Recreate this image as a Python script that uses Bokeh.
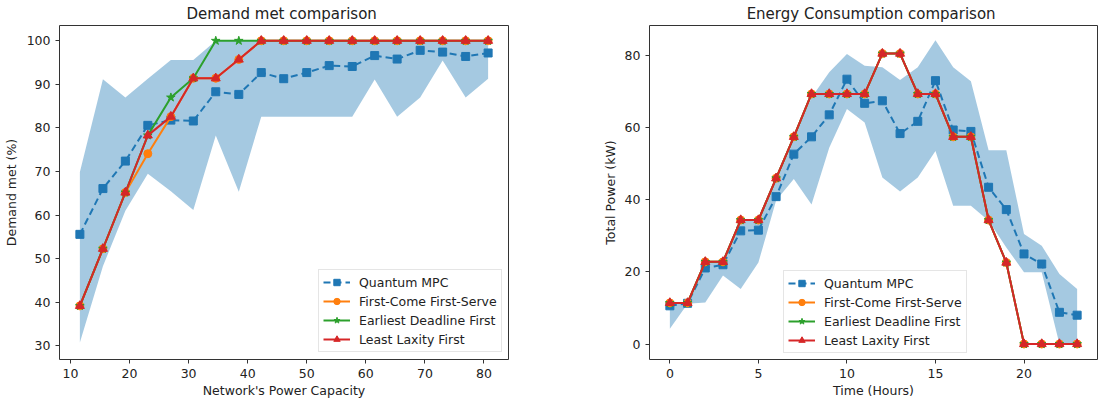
from bokeh.plotting import figure
from bokeh.layouts import row
from bokeh.models import Range1d, Legend, LegendItem, FixedTicker
from bokeh.embed import file_html
from bokeh.resources import INLINE

# ---------------- Left chart: Demand met ----------------
capacity = [11.6, 15.5, 19.3, 23.1, 27.0, 30.8, 34.6, 38.5, 42.3, 46.1,
            50.0, 53.8, 57.7, 61.5, 65.3, 69.2, 73.0, 76.9, 80.7]
dm_qmpc = [55.6, 66.1, 72.4, 80.6, 81.8, 81.6, 88.3, 87.7, 92.7, 91.3,
           92.7, 94.3, 94.1, 96.6, 95.8, 97.8, 97.4, 96.4, 97.2]
dm_qmpc_low = [30.8, 48.3, 61.0, 69.5, 65.5, 61.2, 78.3, 65.4, 82.6, 82.6,
               82.6, 82.6, 82.6, 91.1, 82.6, 87.0, 95.5, 87.0, 91.3]
dm_qmpc_high = [69.9, 91.2, 87.0, 91.3, 95.6, 95.6, 100, 100, 100, 100,
                100, 100, 100, 100, 100, 100, 100, 100, 100]
dm_fcfs = [39.2, 52.3, 65.2, 74.1, 82.6, 91.4, 91.4, 95.7, 100, 100,
           100, 100, 100, 100, 100, 100, 100, 100, 100]
dm_edf = [39.2, 52.3, 65.2, 78.3, 87.0, 91.4, 100, 100, 100, 100,
          100, 100, 100, 100, 100, 100, 100, 100, 100]
dm_llf = [39.2, 52.3, 65.2, 78.3, 82.6, 91.4, 91.4, 95.7, 100, 100,
          100, 100, 100, 100, 100, 100, 100, 100, 100]
left_xticks = [10, 20, 30, 40, 50, 60, 70, 80]
left_yticks = [30, 40, 50, 60, 70, 80, 90, 100]

# ---------------- Right chart: Energy consumption ----------------
hours = list(range(24))
ec_qmpc = [10.6, 11.3, 21.1, 22.0, 31.4, 31.6, 40.9, 52.7, 57.5, 63.6, 73.5, 66.8,
           67.5, 58.4, 61.8, 73.1, 59.4, 59.0, 43.5, 37.3, 25.0, 22.2, 8.8, 8.0]
ec_qmpc_low = [4.2, 11.2, 11.5, 19.0, 15.3, 22.6, 39.8, 45.8, 38.7, 54.5, 65.2, 61.5,
               46.2, 42.3, 46.2, 53.6, 38.4, 38.4, 34.2, 26.8, 19.9, 19.9, 0.0, 0.0]
ec_qmpc_high = [11.5, 11.5, 22.8, 22.8, 34.6, 34.6, 46.0, 57.5, 68.4, 75.4, 80.5, 77.2,
                76.8, 73.3, 76.8, 84.3, 76.8, 72.9, 53.8, 53.8, 30.5, 27.3, 19.4, 15.3]
ec_fcfs = [11.4, 11.4, 22.8, 22.8, 34.4, 34.4, 46.0, 57.5, 69.4, 69.4, 69.4, 69.4,
           80.6, 80.6, 69.4, 69.4, 57.5, 57.5, 34.4, 22.6, 0, 0, 0, 0]
ec_edf = list(ec_fcfs)
ec_llf = list(ec_fcfs)
right_xticks = [0, 5, 10, 15, 20]
right_yticks = [0, 20, 40, 60, 80]

BLUE, ORANGE, GREEN, RED = "#1f77b4", "#ff7f0e", "#2ca02c", "#d62728"
FONT = "DejaVu Sans"
TXT = "#222222"


def style(p, xticks, yticks, xlabel, ylabel, title):
    p.outline_line_color = "#333333"
    p.outline_line_width = 1
    p.xgrid.visible = False
    p.ygrid.visible = False
    p.background_fill_color = "white"
    p.border_fill_color = "white"
    p.xaxis.ticker = FixedTicker(ticks=xticks)
    p.yaxis.ticker = FixedTicker(ticks=yticks)
    p.xaxis.axis_label = xlabel
    p.yaxis.axis_label = ylabel
    for ax in (p.xaxis[0], p.yaxis[0]):
        ax.axis_line_color = None
        ax.major_tick_line_color = "#333333"
        ax.major_tick_out = 4
        ax.major_tick_in = 0
        ax.minor_tick_line_color = None
        ax.major_label_text_font = FONT
        ax.major_label_text_font_size = "12.5px"
        ax.major_label_text_color = TXT
        ax.major_label_standoff = 5
        ax.axis_label_text_font = FONT
        ax.axis_label_text_font_size = "12.5px"
        ax.axis_label_text_font_style = "normal"
        ax.axis_label_text_color = TXT
    p.xaxis.axis_label_standoff = 2
    p.yaxis.axis_label_standoff = 5
    p.title.text = title
    p.title.text_font = FONT
    p.title.text_font_size = "15px"
    p.title.text_font_style = "normal"
    p.title.text_color = TXT
    p.title.align = "center"
    p.title.standoff = 5


def draw(p, x, q, qlo, qhi, fcfs, edf, llf, legend_loc):
    p.varea(x=x, y1=qlo, y2=qhi, fill_color=BLUE, fill_alpha=0.4)
    lq = p.line(x, q, line_color=BLUE, line_width=2, line_dash="7 4")
    sq = p.scatter(x, q, marker="square", size=8, fill_color=BLUE, line_color=BLUE)
    lf = p.line(x, fcfs, line_color=ORANGE, line_width=2)
    sf = p.scatter(x, fcfs, marker="circle", size=8, fill_color=ORANGE, line_color=ORANGE)
    le = p.line(x, edf, line_color=GREEN, line_width=2)
    se = p.scatter(x, edf, marker="star", size=9, fill_color=GREEN, line_color=GREEN)
    ll = p.line(x, llf, line_color=RED, line_width=2)
    sl = p.scatter(x, llf, marker="triangle", size=9, fill_color=RED, line_color=RED)
    legend = Legend(items=[
        LegendItem(label="Quantum MPC", renderers=[lq, sq]),
        LegendItem(label="First-Come First-Serve", renderers=[lf, sf]),
        LegendItem(label="Earliest Deadline First", renderers=[le, se]),
        LegendItem(label="Least Laxity First", renderers=[ll, sl]),
    ], location=legend_loc)
    legend.border_line_color = "#cccccc"
    legend.border_line_width = 1
    legend.background_fill_color = "white"
    legend.background_fill_alpha = 0.8
    legend.label_text_font = FONT
    legend.label_text_font_size = "12.5px"
    legend.label_text_color = TXT
    legend.glyph_width = 27
    legend.glyph_height = 16
    legend.label_height = 16
    legend.label_standoff = 9
    legend.padding = 4
    legend.spacing = 3
    legend.margin = 0
    p.add_layout(legend)


# Left figure
p1 = figure(width=560, height=405, output_backend="svg", toolbar_location=None,
            x_range=Range1d(8.15, 84.15), y_range=Range1d(26.9, 103.5),
            min_border_left=58, min_border_right=52, min_border_top=24, min_border_bottom=44)
style(p1, left_xticks, left_yticks, "Network's Power Capacity", "Demand met (%)",
      "Demand met  comparison")
draw(p1, capacity, dm_qmpc, dm_qmpc_low, dm_qmpc_high, dm_fcfs, dm_edf, dm_llf, (259, 7))

# Right figure
p2 = figure(width=538, height=405, output_backend="svg", toolbar_location=None,
            x_range=Range1d(-1.15, 24.15), y_range=Range1d(-4.3, 88.4),
            min_border_left=89, min_border_right=1, min_border_top=25, min_border_bottom=46)
style(p2, right_xticks, right_yticks, "Time (Hours)", "Total Power (kW)",
      "Energy Consumption  comparison")
p2.yaxis.axis_label_standoff = 4
draw(p2, hours, ec_qmpc, ec_qmpc_low, ec_qmpc_high, ec_fcfs, ec_edf, ec_llf, (134, 6))

layout = row(p1, p2)
open("out.html", "w").write(file_html(layout, INLINE))
